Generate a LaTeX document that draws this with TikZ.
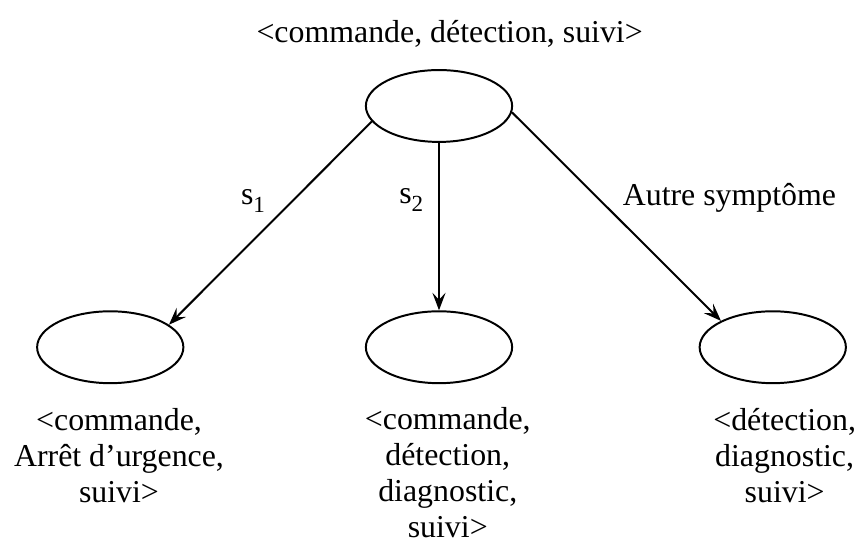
\documentclass[tikz,border=0pt]{standalone}
\usepackage{fontspec}
\setmainfont{Liberation Serif}
\usetikzlibrary{shapes.geometric,arrows.meta}

\newcommand{\sub}[1]{\raisebox{-0.55ex}{\fontsize{10.5pt}{12pt}\selectfont #1}}

\begin{document}
\begin{tikzpicture}[->,>={Stealth[length=2.8mm,width=2.1mm,inset=1.1mm]},line width=0.9pt,
	state/.style={draw,ellipse,minimum width=2.34cm,minimum height=1.15cm,inner sep=0pt},
	set/.style={align=center},
	font=\fontsize{14.5pt}{16.4pt}\selectfont]

\useasboundingbox (0,0) rectangle (13.696,8.688);

\node[state](e0) at (7.024,6.992){};
\node[state](e2)[below of=e0,node distance=3.86cm]{};
\node[state](e1)[left of=e2,node distance=5.26cm]{};
\node[state](e3)[right of=e2,node distance=5.34cm]{};

\node(t0)[above of=e0,node distance=1.16cm,xshift=0.17cm]{<commande, détection, suivi>};
\node[set](t1)[below of=e1,node distance=1.73cm,xshift=0.14cm]{<commande,\\Arrêt d’urgence,\\suivi>};
\node[set](t2)[below of=e2,node distance=2.0cm,xshift=0.14cm]{<commande,\\détection,\\diagnostic,\\suivi>};
\node[set](t3)[below of=e3,node distance=1.74cm,xshift=0.19cm]{<détection,\\diagnostic,\\suivi>};

\path(e0.193)edge node[left=0.31cm,pos=0.39]{s\sub{1}}(e1.21)
	(e0.south)edge node[left=0.12cm,pos=0.34]{s\sub{2}}(e2.north)
	(e0.355)edge node[right=0.27cm,pos=0.41]{Autre symptôme}(e3.153);

\end{tikzpicture}
\end{document}
